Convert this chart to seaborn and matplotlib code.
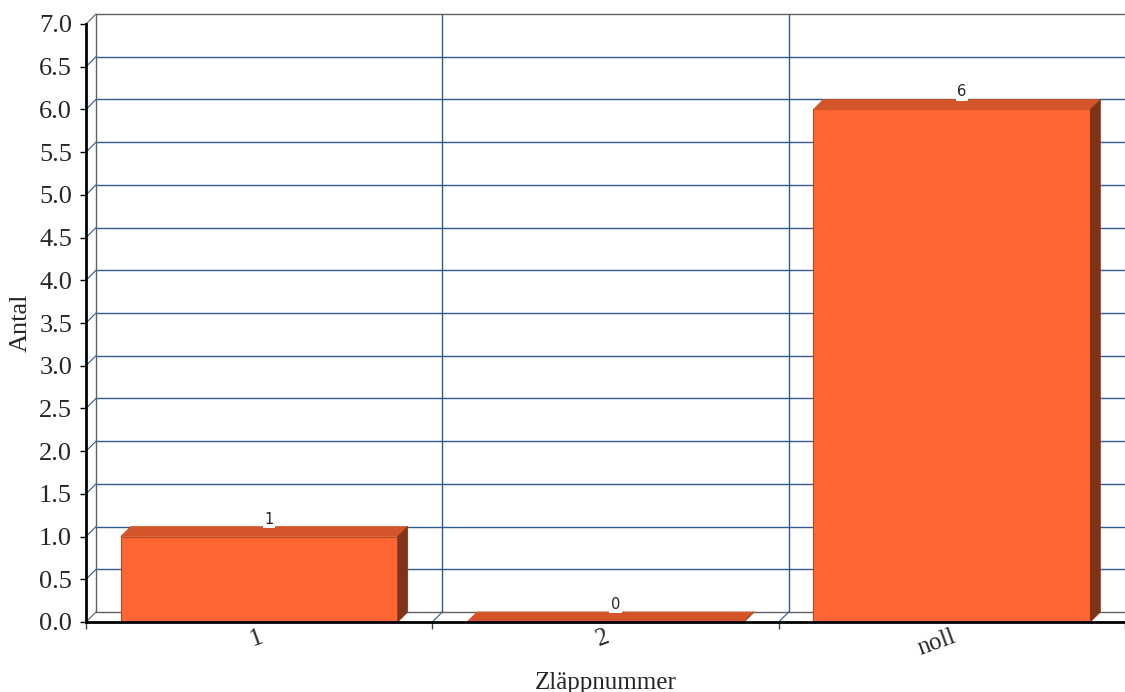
import matplotlib
matplotlib.use("Agg")
import matplotlib.pyplot as plt
import matplotlib.transforms as mtransforms
from matplotlib.patches import Polygon
import seaborn as sns
import pandas as pd

# data
categories = ["1", "2", "noll"]
antal = [1, 0, 6]
y_ticks = [0.0, 0.5, 1.0, 1.5, 2.0, 2.5, 3.0, 3.5, 4.0, 4.5, 5.0, 5.5, 6.0, 6.5, 7.0]

FRONT = "#FF6633"
TOP = "#D4552A"
SIDE = "#7E3419"
EDGE = "#B9481F"
GRID = "#2F5A8C"
WALL = "#606060"
DEPTH = 10  # pixels of fake 3d depth

sns.set_style("white")
plt.rcParams['font.family'] = ['Liberation Serif', 'DejaVu Serif']

W, H = 1125, 692
fig = plt.figure(figsize=(W / 100, H / 100), dpi=100)
ax = fig.add_axes([86 / W, (H - 622) / H, (W - 86) / W, (622 - 24) / H])

df = pd.DataFrame({"Zläppnummer": categories, "Antal": antal})
sns.barplot(data=df, x="Zläppnummer", y="Antal", color=FRONT, saturation=1,
            width=0.8, edgecolor=EDGE, linewidth=0.8, ax=ax, zorder=4)
ax.set_xlim(-0.5, 2.5)
ax.set_ylim(0, 7)

# depth in data units
inv = ax.transData.inverted()
o = ax.transData.transform((0, 0))
dx, dy = inv.transform(o + [DEPTH, DEPTH])

# back wall + grid
x_left, x_right = -0.5, 2.5
for y in y_ticks:
    c = WALL if y in (0.0, 7.0) else GRID
    ax.plot([x_left + dx, x_right + 2 * dx], [y + dy, y + dy], color=c, lw=1, clip_on=False, zorder=1)
    ax.plot([x_left, x_left + dx], [y, y + dy], color=c, lw=0.8, clip_on=False, zorder=1)
ax.plot([x_left + dx, x_left + dx], [dy, 7 + dy], color=WALL, lw=1, clip_on=False, zorder=1)
for xb in [0.5, 1.5]:
    ax.plot([xb + dx, xb + dx], [dy, 7 + dy], color=GRID, lw=1, clip_on=False, zorder=1)
for xb in [0.5, 1.5, 2.5]:
    ax.plot([xb, xb + dx], [0, dy], color=GRID, lw=0.8, clip_on=False, zorder=1)

# top and side faces of the bars, plus value labels
for p, v in zip(ax.patches, antal):
    x0, w, h = p.get_x(), p.get_width(), p.get_height()
    top = Polygon([(x0, h), (x0 + w, h), (x0 + w + dx, h + dy), (x0 + dx, h + dy)],
                  closed=True, facecolor=TOP, edgecolor=TOP, lw=0.5, zorder=4, clip_on=False)
    side = Polygon([(x0 + w, 0), (x0 + w + dx, dy), (x0 + w + dx, h + dy), (x0 + w, h)],
                   closed=True, facecolor=SIDE, edgecolor=SIDE, lw=0.5, zorder=4, clip_on=False)
    ax.add_patch(top)
    ax.add_patch(side)
    ax.text(x0 + w / 2 + dx, h + dy, str(v), ha='center', va='bottom', fontsize=10.5,
            family='DejaVu Sans', color='#222222', zorder=6,
            bbox=dict(facecolor='white', edgecolor='none', pad=1))

for s in ['top', 'right']:
    ax.spines[s].set_visible(False)
for s in ['left', 'bottom']:
    ax.spines[s].set_color('black')
    ax.spines[s].set_linewidth(2)
    ax.spines[s].set_zorder(5)

ax.set_yticks(y_ticks, [f"{t:.1f}" for t in y_ticks])
ax.tick_params(axis='y', length=4, width=1, color='black', labelsize=19, pad=6, left=True)
ax.set_xticks([0, 1, 2], categories, rotation=20, ha='right')
ax.set_xticks([-0.5, 0.5, 1.5, 2.5], minor=True)
ax.tick_params(axis='x', which='major', length=0, labelsize=18, pad=3)
ax.tick_params(axis='x', which='minor', length=5, width=1, color='#444444', bottom=True)
shift = mtransforms.ScaledTranslation(0.07, 0, fig.dpi_scale_trans)
for lab in ax.get_xticklabels():
    lab.set_transform(lab.get_transform() + shift)

ax.set_xlabel("Zläppnummer", fontsize=18)
ax.set_ylabel("Antal", fontsize=19)
ax.xaxis.set_label_coords(0.5, -0.083)
ax.yaxis.set_label_coords(-0.052, 0.5)

fig.savefig("out.png", dpi=100)
